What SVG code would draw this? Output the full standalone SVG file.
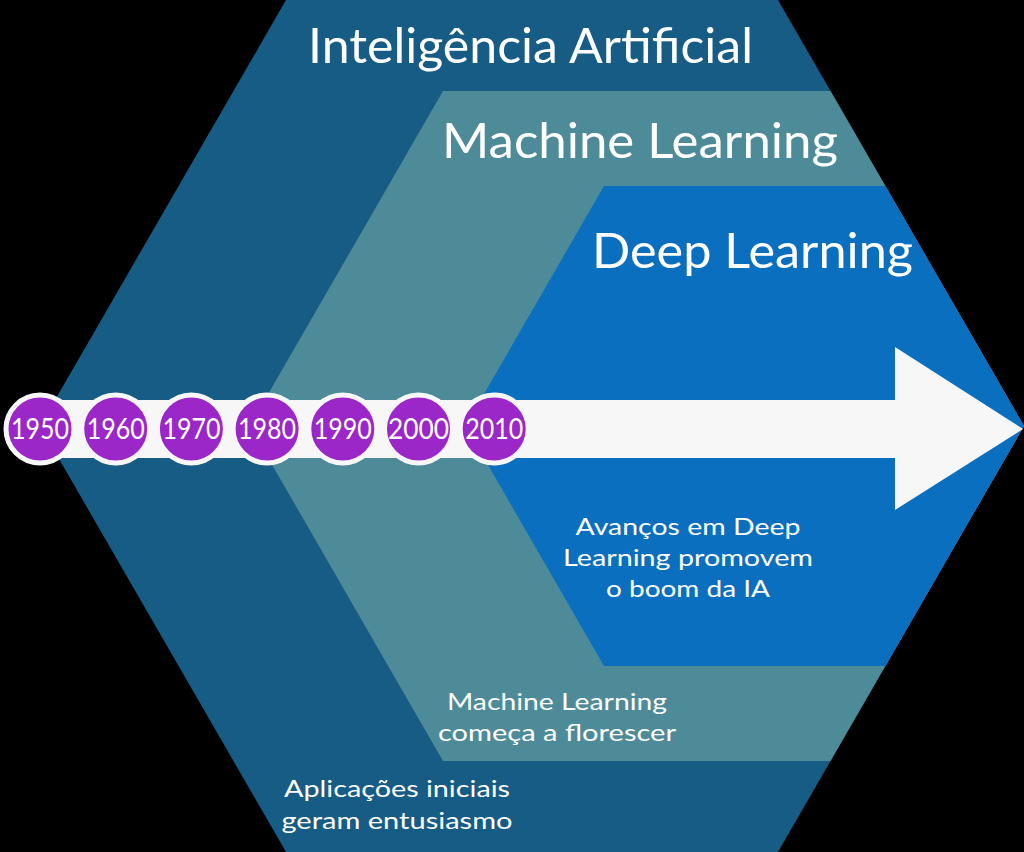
<svg xmlns="http://www.w3.org/2000/svg" width="1024" height="852" viewBox="0 0 1024 852">
  <style>
    .t { font-family: "Lato", "Liberation Sans", sans-serif; fill: #ffffff; }
    .big { font-size: 48px; }
    .small { font-size: 24px; text-anchor: middle; }
    .yr { font-size: 29px; text-anchor: middle; }
    .ring { fill: #9b27c9; stroke: #f7f7f7; stroke-width: 5; }
  </style>
  <rect x="0" y="0" width="1024" height="852" fill="#000000"/>

  <g id="ia">
    <polygon points="286,0 778,0 1024,426 778,852 286,852 40,426" fill="#175c85"/>
    <text class="t big" x="308" y="63" textLength="445" lengthAdjust="spacingAndGlyphs">Inteligência Artificial</text>
    <text class="t small" x="397" y="797" textLength="226" lengthAdjust="spacingAndGlyphs">Aplicações iniciais</text>
    <text class="t small" x="397" y="829" textLength="231" lengthAdjust="spacingAndGlyphs">geram entusiasmo</text>
  </g>

  <g id="ml">
    <polygon points="443,91 830.5,91 1024,426 830.5,761 443,761 249.7,426" fill="#4e8b99"/>
    <text class="t big" x="442" y="158" textLength="396" lengthAdjust="spacingAndGlyphs">Machine Learning</text>
    <text class="t small" x="557" y="710" textLength="220" lengthAdjust="spacingAndGlyphs">Machine Learning</text>
    <text class="t small" x="557" y="741" textLength="238" lengthAdjust="spacingAndGlyphs">começa a florescer</text>
  </g>

  <g id="dl">
    <polygon points="604,186 885.4,186 1024,426 885.4,666 604,666 465.5,426" fill="#0b6fbf"/>
    <text class="t big" x="592" y="268" textLength="321" lengthAdjust="spacingAndGlyphs">Deep Learning</text>
    <text class="t small" x="688" y="535" textLength="225" lengthAdjust="spacingAndGlyphs">Avanços em Deep</text>
    <text class="t small" x="688" y="566" textLength="250" lengthAdjust="spacingAndGlyphs">Learning promovem</text>
    <text class="t small" x="688" y="597" textLength="164" lengthAdjust="spacingAndGlyphs">o boom da IA</text>
  </g>

  <g id="connectors">
    <polygon points="40,400 895,400 895,347 1023,429 895,510 895,458 40,458" fill="#f7f7f7"/>
  </g>

  <g id="y1950"><circle class="ring" cx="40" cy="429" r="34"/><text class="t yr" x="40" y="439" textLength="58" lengthAdjust="spacingAndGlyphs">1950</text></g>
  <g id="y1960"><circle class="ring" cx="115.7" cy="429" r="34"/><text class="t yr" x="115.7" y="439" textLength="58" lengthAdjust="spacingAndGlyphs">1960</text></g>
  <g id="y1970"><circle class="ring" cx="191.4" cy="429" r="34"/><text class="t yr" x="191.4" y="439" textLength="58" lengthAdjust="spacingAndGlyphs">1970</text></g>
  <g id="y1980"><circle class="ring" cx="267.1" cy="429" r="34"/><text class="t yr" x="267.1" y="439" textLength="58" lengthAdjust="spacingAndGlyphs">1980</text></g>
  <g id="y1990"><circle class="ring" cx="342.8" cy="429" r="34"/><text class="t yr" x="342.8" y="439" textLength="58" lengthAdjust="spacingAndGlyphs">1990</text></g>
  <g id="y2000"><circle class="ring" cx="418.5" cy="429" r="34"/><text class="t yr" x="418.5" y="439" textLength="61" lengthAdjust="spacingAndGlyphs">2000</text></g>
  <g id="y2010"><circle class="ring" cx="494.2" cy="429" r="34"/><text class="t yr" x="494.2" y="439" textLength="58" lengthAdjust="spacingAndGlyphs">2010</text></g>
</svg>
